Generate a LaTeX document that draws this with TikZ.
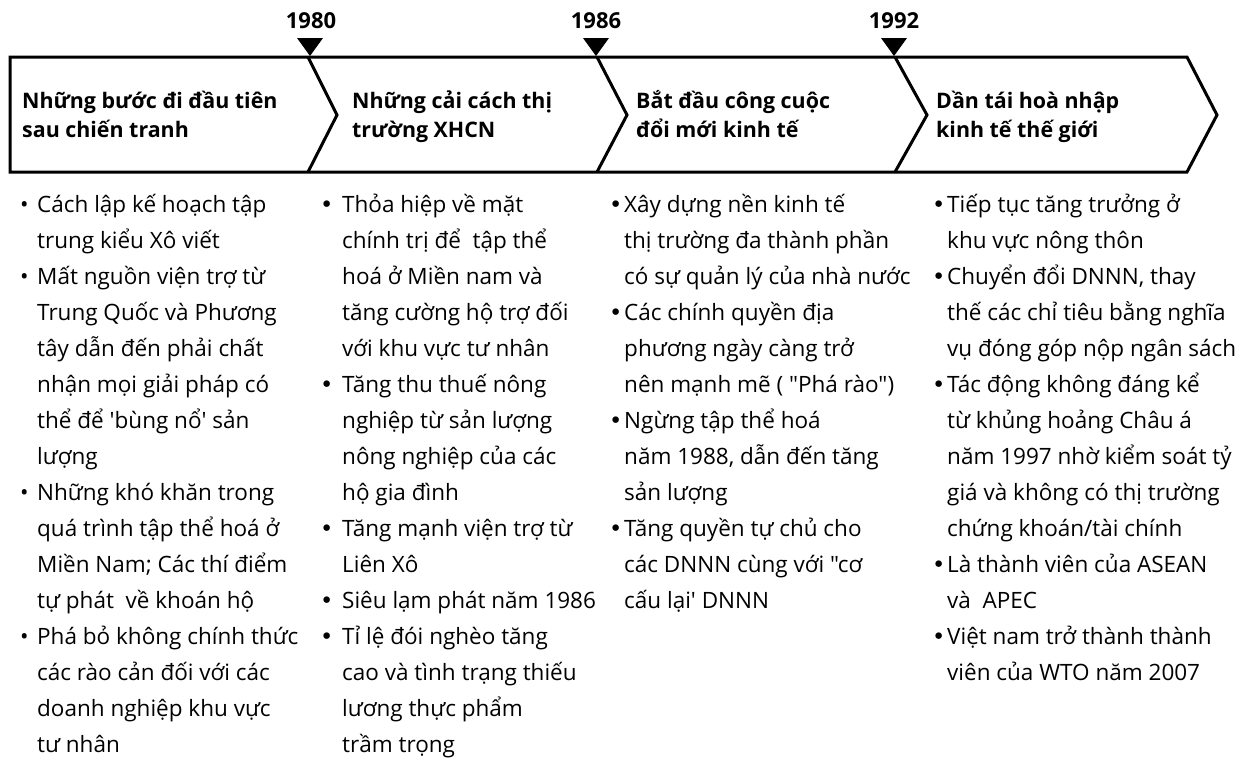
\documentclass[tikz,border=0pt]{standalone}
\usepackage{fontspec}
\setmainfont{Open Sans}[Ligatures=TeXOff]
\newfontfamily\bulfont{DejaVu Sans}
\newlength\bw
\newcommand\bul{\makebox[\bw][l]{•}}
\newcommand\bulb{\makebox[\bw][l]{\hspace*{-3.2pt}\bulfont •}}
\newcommand\ind{\hspace*{\bw}}
\newcommand\topstrut{\rule{0pt}{24pt}}
\begin{document}
\begin{tikzpicture}[x=1pt,y=-1pt,
  outline/.style={line width=3pt, line join=miter},
  yearlbl/.style={font=\fontsize{22}{22}\selectfont\bfseries, anchor=base, inner sep=0pt},
  marker/.style={fill=black},
  title/.style={font=\fontsize{21.4}{29}\selectfont\bfseries, align=left, anchor=north west, inner sep=0pt},
  col/.style={font=\fontsize{22.5}{36}\selectfont, align=left, anchor=north west, inner sep=0pt,
    execute at begin node={\setlength\bw{#1}}}
]
\useasboundingbox (0,0) rectangle (1255,772);

% timeline band
\coordinate (t1) at (308,57);
\coordinate (t2) at (597,57);
\coordinate (t3) at (895,57);
\draw[outline] (10,57) -- (1187,57) -- (1217,115) -- (1187,172) -- (10,172) -- cycle;
\draw[outline] (t1) -- (337,115) -- (308,172);
\draw[outline] (t2) -- (627,115) -- (597,172);
\draw[outline] (t3) -- (927,115) -- (895,172);

% markers
\fill[marker] (297,38) -- (323,38) -- (310,56) -- cycle;
\fill[marker] (583,38) -- (609,38) -- (596,56) -- cycle;
\fill[marker] (881,38) -- (907,38) -- (894,56) -- cycle;
\node[yearlbl] (y1) at (311,28) {1980};
\node[yearlbl] (y2) at (596,28) {1986};
\node[yearlbl] (y3) at (894,28) {1992};

% titles
\node[title] (h1) at (22,84) {\topstrut Những bước đi đầu tiên\\sau chiến tranh};
\node[title] (h2) at (352,84) {\topstrut Những cải cách thị\\trường XHCN};
\node[title] (h3) at (636,84) {\topstrut Bắt đầu công cuộc\\đổi mới kinh tế};
\node[title] (h4) at (936,84) {\topstrut Dần tái hoà nhập\\kinh tế thế giới};

% columns
\node[col=17pt] (c1) at (20,188) {\topstrut\bul Cách lập kế hoạch tập\\
\ind trung kiểu Xô viết\\
\bul Mất nguồn viện trợ từ\\
\ind Trung Quốc và Phương\\
\ind tây dẫn đến phải chất\\
\ind nhận mọi giải pháp có\\
\ind thể để 'bùng nổ' sản\\
\ind lượng\\
\bul Những khó khăn trong\\
\ind quá trình tập thể hoá ở\\
\ind Miền Nam; Các thí điểm\\
\ind tự phát\ \ về khoán hộ\\
\bul Phá bỏ không chính thức\\
\ind các rào cản đối với các\\
\ind doanh nghiệp khu vực\\
\ind tư nhân};

\node[col=19pt] (c2) at (323,188) {\topstrut\bulb Thỏa hiệp về mặt\\
\ind chính trị để\ \ tập thể\\
\ind hoá ở Miền nam và\\
\ind tăng cường hộ trợ đối\\
\ind với khu vực tư nhân\\
\bulb Tăng thu thuế nông\\
\ind nghiệp từ sản lượng\\
\ind nông nghiệp của các\\
\ind hộ gia đình\\
\bulb Tăng mạnh viện trợ từ\\
\ind Liên Xô\\
\bulb Siêu lạm phát năm 1986\\
\bulb Tỉ lệ đói nghèo tăng\\
\ind cao và tình trạng thiếu\\
\ind lương thực phẩm\\
\ind trầm trọng};

\node[col=12pt] (c3) at (612,188) {\topstrut\bulb Xây dựng nền kinh tế\\
\ind thị trường đa thành phần\\
\ind có sự quản lý của nhà nước\\
\bulb Các chính quyền địa\\
\ind phương ngày càng trở\\
\ind nên mạnh mẽ ( "Phá rào")\\
\bulb Ngừng tập thể hoá\\
\ind năm 1988, dẫn đến tăng\\
\ind sản lượng\\
\bulb Tăng quyền tự chủ cho\\
\ind các DNNN cùng với "cơ\\
\ind cấu lại' DNNN};

\node[col=12pt] (c4) at (935,188) {\topstrut\bulb Tiếp tục tăng trưởng ở\\
\ind khu vực nông thôn\\
\bulb Chuyển đổi DNNN, thay\\
\ind thế các chỉ tiêu bằng nghĩa\\
\ind vụ đóng góp nộp ngân sách\\
\bulb Tác động không đáng kể\\
\ind từ khủng hoảng Châu á\\
\ind năm 1997 nhờ kiểm soát tỷ\\
\ind giá và không có thị trường\\
\ind chứng khoán/tài chính\\
\bulb Là thành viên của ASEAN\\
\ind và\ \ APEC\\
\bulb Việt nam trở thành thành\\
\ind viên của WTO năm 2007};
\end{tikzpicture}
\end{document}
